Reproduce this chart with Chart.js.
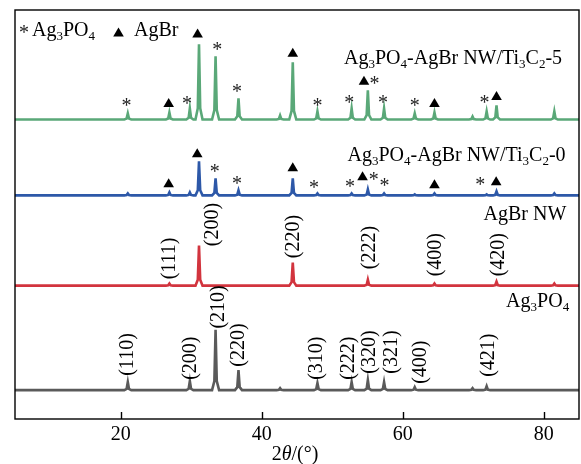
<!DOCTYPE html>
<html><head><meta charset="utf-8">
<script src="https://cdn.jsdelivr.net/npm/chart.js@4.4.0/dist/chart.umd.min.js"></script>
<style>html,body{margin:0;padding:0;background:#fff;}</style>
</head><body>
<canvas id="c" width="581" height="464"></canvas>
<script>
// ---- data (2θ in degrees, intensity in arbitrary units) ----
const xTicks = [20, 40, 60, 80];
const seriesNames = ['Ag3PO4-AgBr NW/Ti3C2-5', 'Ag3PO4-AgBr NW/Ti3C2-0', 'AgBr NW', 'Ag3PO4'];
const seriesColors = ['#5aa878', '#2d58a8', '#d2343e', '#5a5a5a'];
const stackOffsets = [298, 222.5, 132.7, 28.7];

const ti5Peaks   = [21.0, 26.9, 29.8, 31.1, 33.45, 36.7, 42.6, 44.4, 47.9, 52.75, 55.05, 57.35, 61.7, 64.5, 69.9, 71.9, 73.3, 81.5];
const ti5Heights = [6,    7,    11,   75,   63,    21,   4,    57,   8,    11,    29,    11,    6,    7,    3,    8,    14,   8];

const ti0Peaks   = [21.0, 26.9, 29.8, 31.1, 33.45, 36.7, 44.4, 47.9, 52.75, 55.05, 57.35, 61.7, 64.5, 71.9, 73.3, 81.5];
const ti0Heights = [2,    3,    3,    34,   17,    5,    17,   2,    2,     6,     2,     1,    2,    1,    4,    2];

const agbrPeaks   = [26.9, 31.1, 44.4, 55.05, 64.5, 73.3, 81.5];
const agbrHeights = [2,    40,   23,   6,     2,    4,    2];

const apoPeaks   = [21.0, 29.8, 33.45, 36.7, 42.6, 47.9, 52.75, 55.05, 57.35, 61.7, 69.9, 71.9];
const apoHeights = [8,    9,    60,    20,   2,    7,    8,     10,    8,     3,    2,    4];

// phase markers: [symbol, 2θ, level]   ('*' = Ag3PO4, 't' = AgBr triangle)
const ti5Markers = [['*',20.8,315],['t',26.8,315],['*',29.4,317],['t',30.9,384],['*',33.7,371],['*',36.5,329],
  ['t',44.4,365],['*',47.9,315],['*',52.4,318],['t',54.5,337],['*',56.0,337],['*',57.2,318],['*',61.7,315],
  ['t',64.5,315],['*',71.6,318],['t',73.3,322]];
const ti0Markers = [['t',26.8,235],['t',30.85,265],['*',33.35,250],['*',36.5,238],['t',44.4,251],['*',47.4,234],
  ['*',52.5,235],['t',54.3,242],['*',55.9,242],['*',57.4,236],['t',64.5,234],['*',71.0,237],['t',73.25,237]];

// Miller indices: [label, 2θ, level of text start]
const agbrHkl = [['(111)',26.86,139],['(200)',32.87,172],['(220)',44.37,160],['(222)',55.17,149],['(400)',64.56,142],['(420)',73.48,142]];
const apoHkl = [['(110)',20.9,43],['(200)',29.82,39],['(210)',33.8,90],['(220)',36.62,52],['(310)',47.66,39],
  ['(222)',52.25,39],['(320)',55.17,45],['(321)',58.23,45],['(400)',62.45,35],['(421)',72.07,42]];

// series label anchors: [right end 2θ, baseline level]
const labelAnchors = [[82.6,353.7],[83.1,257],[83.2,198],[83.6,111]];

// ---- build line tables from the peak lists ----
function buildSeries(peaks, heights, offset) {
  const pts = [{x:5, y:offset}];
  peaks.forEach((p, i) => {
    const h = heights[i];
    pts.push({x:p-0.5, y:offset}, {x:p-0.17, y:offset+0.15*h}, {x:p, y:offset+h},
             {x:p+0.17, y:offset+0.15*h}, {x:p+0.5, y:offset});
  });
  pts.push({x:85, y:offset});
  return pts;
}
const tables = [
  buildSeries(ti5Peaks, ti5Heights, stackOffsets[0]),
  buildSeries(ti0Peaks, ti0Heights, stackOffsets[1]),
  buildSeries(agbrPeaks, agbrHeights, stackOffsets[2]),
  buildSeries(apoPeaks, apoHeights, stackOffsets[3])
];

const SERIF = "'Liberation Serif', 'Times New Roman', serif";
function richParts(s) {
  const parts = [];
  for (let i = 0; i < s.length; i++) {
    const ch = s[i];
    const prev = s[i-1];
    const sub = /[0-9]/.test(ch) && prev && /[A-Za-z]/.test(prev);
    const last = parts[parts.length-1];
    if (last && last[1] === sub) last[0] += ch; else parts.push([ch, sub]);
  }
  return parts;
}
function drawRich(ctx, parts, x, y, align) {
  const main = '20px ' + SERIF, small = '13px ' + SERIF;
  let w = 0;
  parts.forEach(p => { ctx.font = p[1] ? small : main; w += ctx.measureText(p[0]).width; });
  let cx = align === 'right' ? x - w : align === 'center' ? x - w/2 : x;
  ctx.textAlign = 'left'; ctx.textBaseline = 'alphabetic';
  parts.forEach(p => {
    ctx.font = p[1] ? small : main;
    ctx.fillText(p[0], cx, p[1] ? y + 4 : y);
    cx += ctx.measureText(p[0]).width;
  });
}
function drawTriangle(ctx, x, y) {
  ctx.beginPath();
  ctx.moveTo(x, y - 4.5); ctx.lineTo(x + 5.3, y + 4.5); ctx.lineTo(x - 5.3, y + 4.5); ctx.closePath();
  ctx.fillStyle = '#000'; ctx.fill();
}
function drawStar(ctx, x, y) {
  ctx.font = '20px ' + SERIF; ctx.fillStyle = '#222';
  ctx.textAlign = 'center'; ctx.textBaseline = 'alphabetic';
  ctx.fillText('*', x, y + 10);
}

const decor = {
  id: 'decor',
  afterDraw(chart) {
    const ctx = chart.ctx, a = chart.chartArea, xs = chart.scales.x, ys = chart.scales.y;
    ctx.save();
    ctx.strokeStyle = '#000'; ctx.lineWidth = 1.4;
    ctx.strokeRect(a.left, a.top, a.right - a.left, a.bottom - a.top);
    xTicks.forEach(v => {
      const px = Math.round(xs.getPixelForValue(v)) + 0.5;
      ctx.beginPath(); ctx.moveTo(px, a.bottom); ctx.lineTo(px, a.bottom - 7); ctx.stroke();
    });
    [ti5Markers, ti0Markers].forEach(list => list.forEach(m => {
      const px = xs.getPixelForValue(m[1]), py = ys.getPixelForValue(m[2]);
      if (m[0] === 't') drawTriangle(ctx, px, py); else drawStar(ctx, px, py);
    }));
    ctx.fillStyle = '#000';
    [agbrHkl, apoHkl].forEach(list => list.forEach(m => {
      const px = xs.getPixelForValue(m[1]), py = ys.getPixelForValue(m[2]);
      ctx.save(); ctx.translate(px, py); ctx.rotate(-Math.PI/2);
      ctx.font = '20px ' + SERIF; ctx.textAlign = 'left'; ctx.textBaseline = 'middle';
      ctx.fillText(m[0], 0, 1);
      ctx.restore();
    }));
    ctx.fillStyle = '#000';
    seriesNames.forEach((n, i) => {
      const px = xs.getPixelForValue(labelAnchors[i][0]), py = ys.getPixelForValue(labelAnchors[i][1]);
      drawRich(ctx, richParts(n), px, py, 'right');
    });
    drawStar(ctx, a.left + 9, a.top + 19);
    ctx.fillStyle = '#000';
    drawRich(ctx, richParts('Ag3PO4'), a.left + 17, a.top + 26, 'left');
    drawTriangle(ctx, a.left + 103.5, a.top + 22);
    ctx.fillStyle = '#000';
    drawRich(ctx, [['AgBr', false]], a.left + 119, a.top + 26, 'left');
    const cx = (a.left + a.right) / 2 - 2;
    const segs = [['2', '20px ' + SERIF], ['θ', 'italic 20px ' + SERIF], ['/(°)', '20px ' + SERIF]];
    let tw = 0; segs.forEach(s => { ctx.font = s[1]; tw += ctx.measureText(s[0]).width; });
    let sx = cx - tw/2; ctx.textAlign = 'left'; ctx.textBaseline = 'alphabetic';
    segs.forEach(s => { ctx.font = s[1]; ctx.fillText(s[0], sx, 460); sx += ctx.measureText(s[0]).width; });
    ctx.restore();
  }
};

new Chart(document.getElementById('c'), {
  type: 'line',
  data: {
    datasets: tables.map((t, i) => ({
      label: seriesNames[i], data: t, borderColor: seriesColors[i], borderWidth: 2.6,
      pointRadius: 0, tension: 0, fill: false
    }))
  },
  options: {
    responsive: false, animation: false,
    layout: { padding: { left: 15, top: 10, right: 2, bottom: 13 } },
    plugins: { legend: { display: false }, tooltip: { enabled: false } },
    scales: {
      x: {
        type: 'linear', min: 5, max: 85,
        afterBuildTicks: s => { s.ticks = xTicks.map(v => ({ value: v })); },
        grid: { display: false, drawTicks: false },
        border: { display: false },
        ticks: { color: '#000', font: { family: SERIF, size: 20 }, padding: 4, maxRotation: 0 }
      },
      y: { display: false, min: 0, max: 407 }
    }
  },
  plugins: [decor]
});
</script>
</body></html>
